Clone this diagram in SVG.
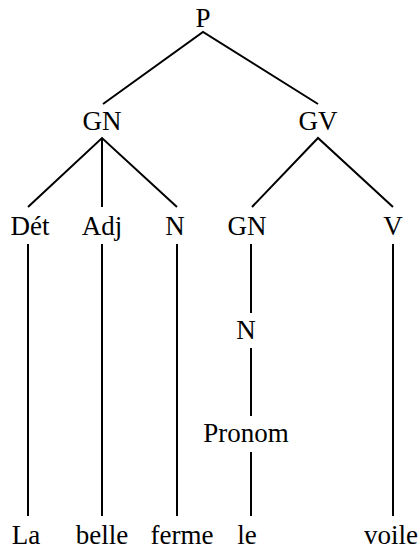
<svg xmlns="http://www.w3.org/2000/svg" width="420" height="550" viewBox="0 0 420 550">
  <style>
    .lbl { font-family: "Liberation Serif", "Times New Roman", serif; font-size: 27px; fill: #000; text-anchor: middle; }
    .edge { stroke: #000; stroke-width: 2; fill: none; stroke-linecap: butt; }
  </style>
  <rect width="420" height="550" fill="#fff"/>
  <g id="connectors">
    <path class="edge" d="M103,104 L203,32 L318,104"/>
    <path class="edge" d="M28,207 L102,138 L177,207 M102,138 L102,207"/>
    <path class="edge" d="M252,207 L318,138 L393,207"/>
    <path class="edge" d="M28,244 V516 M102,244 V516 M177,244 V516 M393,244 V516"/>
    <path class="edge" d="M251,244 V313 M251,348 V416 M251,452 V516"/>
  </g>
  <g id="P"><text class="lbl" x="203" y="27">P</text></g>
  <g id="GN"><text class="lbl" x="102" y="130">GN</text></g>
  <g id="GV"><text class="lbl" x="318" y="130">GV</text></g>
  <g id="Det"><text class="lbl" x="30" y="235">Dét</text></g>
  <g id="Adj"><text class="lbl" x="102" y="235">Adj</text></g>
  <g id="N1"><text class="lbl" x="175" y="235">N</text></g>
  <g id="GN2"><text class="lbl" x="247" y="235">GN</text></g>
  <g id="V"><text class="lbl" x="393" y="235">V</text></g>
  <g id="N2"><text class="lbl" x="246" y="339">N</text></g>
  <g id="Pronom"><text class="lbl" x="246" y="442">Pronom</text></g>
  <g id="w-La"><text class="lbl" x="26" y="544">La</text></g>
  <g id="w-belle"><text class="lbl" x="102" y="544">belle</text></g>
  <g id="w-ferme"><text class="lbl" x="182" y="544">ferme</text></g>
  <g id="w-le"><text class="lbl" x="247" y="544">le</text></g>
  <g id="w-voile"><text class="lbl" x="391" y="544">voile</text></g>
</svg>
